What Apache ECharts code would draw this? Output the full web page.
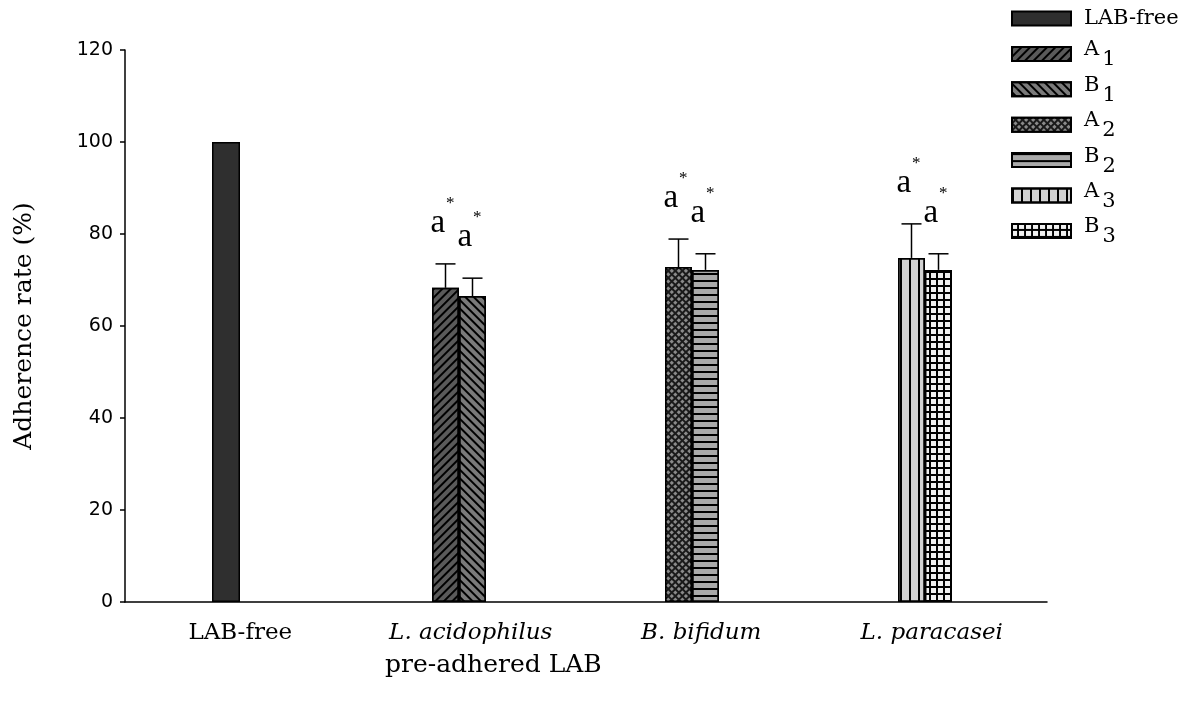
<!DOCTYPE html>
<html><head><meta charset="utf-8">
<script src="https://cdn.jsdelivr.net/npm/echarts@6/dist/echarts.min.js"></script>
<style>html,body{margin:0;padding:0;background:#fff}#c{width:1190px;height:707px}</style>
</head><body><div id="c"></div>
<script>
// ---- data ----
const categories = ['LAB-free', 'L. acidophilus', 'B. bifidum', 'L. paracasei'];
const seriesNames = ['LAB-free', 'A1', 'B1', 'A2', 'B2', 'A3', 'B3'];
const labFreeValue = [100];
const valuesA = [68.3, 72.8, 74.8];   // A1, A2, A3 (L. acidophilus, B. bifidum, L. paracasei)
const valuesB = [66.5, 72.2, 72.2];   // B1, B2, B3
const errorsA = [5.2, 6.1, 7.4];
const errorsB = [3.9, 3.5, 3.5];
const marksA = ['a', 'a', 'a'];
const marksB = ['a', 'a', 'a'];
const yTicks = [0, 20, 40, 60, 80, 100, 120];
const yTitle = 'Adherence rate (%)';
const xTitle = 'pre-adhered LAB';

// ---- styles ----
const BAR_W = 27;
const SERIF = 'DejaVu Serif';
const TIMES = 'Liberation Serif';
const border = { borderColor: '#000', borderWidth: 1.5 };
const styles = {
  'LAB-free': { color: '#2f2f2f' },
  'A1': { color: '#5a5a5a', decal: { symbol: 'rect', symbolSize: 1, symbolKeepAspect: false, color: '#000', dashArrayX: [[20, 0]], dashArrayY: [2, 4], rotation: -Math.PI / 4 } },
  'B1': { color: '#7a7a7a', decal: { symbol: 'rect', symbolSize: 1, symbolKeepAspect: false, color: '#000', dashArrayX: [[20, 0]], dashArrayY: [2, 4], rotation: Math.PI / 4 } },
  'A2': { color: '#1a1a1a', decal: { symbol: 'rect', symbolSize: 1, symbolKeepAspect: false, color: '#8a8a8a', dashArrayX: [3, 2], dashArrayY: [3, 2], rotation: Math.PI / 4 } },
  'B2': { color: '#aaaaaa', decal: { symbol: 'rect', symbolSize: 1, symbolKeepAspect: false, color: '#000', dashArrayX: [[20, 0]], dashArrayY: [2, 5] } },
  'A3': { color: '#d2d2d2', decal: { symbol: 'rect', symbolSize: 1, symbolKeepAspect: false, color: '#000', dashArrayX: [2, 7], dashArrayY: [20, 0] } },
  'B3': { color: '#000000', decal: { symbol: 'rect', symbolSize: 1, symbolKeepAspect: false, color: '#f0f0f0', dashArrayX: [5, 2], dashArrayY: [5, 2] } }
};

function placeIn(groupIndex, value) {
  return categories.map((c, i) => (i === groupIndex ? value : '-'));
}

const series = [];
series.push({
  name: 'LAB-free', type: 'bar', xAxisIndex: 2, yAxisIndex: 1,
  data: placeIn(0, labFreeValue[0]), barWidth: 28,
  itemStyle: Object.assign({}, styles['LAB-free'], border)
});
for (let g = 0; g < 3; g++) {
  const nA = seriesNames[1 + g * 2], nB = seriesNames[2 + g * 2];
  series.push({
    name: nA, type: 'bar', xAxisIndex: 1, yAxisIndex: 1, stack: 'A',
    data: placeIn(g + 1, valuesA[g]), barWidth: BAR_W, barGap: '0%',
    itemStyle: Object.assign({}, styles[nA], border)
  });
  series.push({
    name: nB, type: 'bar', xAxisIndex: 1, yAxisIndex: 1, stack: 'B',
    data: placeIn(g + 1, valuesB[g]), barWidth: BAR_W, barGap: '0%',
    itemStyle: Object.assign({}, styles[nB], border)
  });
}

function errorRenderer(sign, marks) {
  return function (params, api) {
    const cat = api.value(0), v = api.value(1), e = api.value(2);
    const base = api.coord([cat, v]);
    const top = api.coord([cat, v + e]);
    const x = base[0] + sign * BAR_W / 2;
    const cap = 10;
    return {
      type: 'group',
      children: [
        { type: 'line', shape: { x1: x, y1: base[1], x2: x, y2: top[1] }, style: { stroke: '#000', lineWidth: 1.5 } },
        { type: 'line', shape: { x1: x - cap, y1: top[1], x2: x + cap, y2: top[1] }, style: { stroke: '#000', lineWidth: 1.5 } },
        {
          type: 'text',
          style: {
            text: '{a|' + marks[params.dataIndex] + '}{s|*}',
            x: x - 3, y: top[1] - 12, align: 'center', verticalAlign: 'bottom',
            rich: {
              a: { fontFamily: TIMES, fontSize: 33, fill: '#000', color: '#000' },
              s: { fontFamily: TIMES, fontSize: 17, fill: '#000', color: '#000', padding: [0, 0, 40, 1] }
            }
          }
        }
      ]
    };
  };
}

series.push({
  type: 'custom', xAxisIndex: 1, yAxisIndex: 1, z: 5,
  data: valuesA.map((v, i) => [i + 1, v, errorsA[i]]),
  renderItem: errorRenderer(-1, marksA), silent: true
});
series.push({
  type: 'custom', xAxisIndex: 1, yAxisIndex: 1, z: 5,
  data: valuesB.map((v, i) => [i + 1, v, errorsB[i]]),
  renderItem: errorRenderer(1, marksB), silent: true
});

const chart = echarts.init(document.getElementById('c'), null, { renderer: 'canvas' });
chart.setOption({
  animation: false,
  backgroundColor: '#fff',
  grid: [
    { left: 125, right: 143, top: 50, bottom: 105, containLabel: false },
    { left: 109.5, right: 148.5, top: 50, bottom: 105, containLabel: false }
  ],
  legend: {
    orient: 'vertical', left: 1006, top: 3,
    icon: 'rect',
    itemWidth: 59, itemHeight: 14, itemGap: 4.4,
    data: seriesNames,
    formatter: name => name === 'LAB-free'
      ? '{n|' + name + '}{sub| }'
      : '{m|' + name[0] + '}{sub|' + name.slice(1) + '}',
    textStyle: {
      fontFamily: SERIF, fontSize: 21, color: '#000', padding: [0, 0, 0, 8],
      rich: {
        n: { fontFamily: SERIF, fontSize: 21, color: '#000' },
        m: { fontFamily: SERIF, fontSize: 21, color: '#000', padding: [0, 0, 8, 0] },
        sub: { fontFamily: SERIF, fontSize: 21, color: '#000', padding: [12, 0, 0, 3] }
      }
    }
  },
  xAxis: [
    {
      type: 'category', gridIndex: 0, data: categories,
      axisLine: { show: true, lineStyle: { color: '#000', width: 1.5 } },
      axisTick: { show: false },
      axisLabel: {
        interval: 0, margin: 20, color: '#000', fontFamily: SERIF, fontSize: 23,
        formatter: (v, i) => i === 0 ? v : '{it|' + v + '}',
        rich: { it: { fontFamily: SERIF, fontStyle: 'italic', fontSize: 23, color: '#000' } }
      },
      splitLine: { show: false }
    },
    { type: 'category', gridIndex: 1, data: categories, show: false },
    { type: 'category', gridIndex: 1, data: categories, show: false }
  ],
  yAxis: [
    {
      type: 'value', gridIndex: 0, min: yTicks[0], max: yTicks[yTicks.length - 1], interval: yTicks[1] - yTicks[0],
      name: yTitle, nameLocation: 'middle', nameGap: 88,
      nameTextStyle: { fontFamily: SERIF, fontSize: 25, color: '#000' },
      axisLine: { show: true, lineStyle: { color: '#000', width: 1.5 } },
      axisTick: { show: true, length: 5, inside: false, lineStyle: { color: '#000', width: 1.5 } },
      axisLabel: { margin: 12, color: '#000', fontFamily: 'DejaVu Sans', fontSize: 19 },
      splitLine: { show: false }
    },
    {
      type: 'value', gridIndex: 1, min: yTicks[0], max: yTicks[yTicks.length - 1], interval: yTicks[1] - yTicks[0], show: false,
      splitLine: { show: false }
    }
  ],
  graphic: [
    {
      type: 'text', left: 385, top: 653,
      style: { text: xTitle, fontFamily: SERIF, fontSize: 25, fill: '#000' }
    }
  ],
  series: series
});
</script>
</body></html>
